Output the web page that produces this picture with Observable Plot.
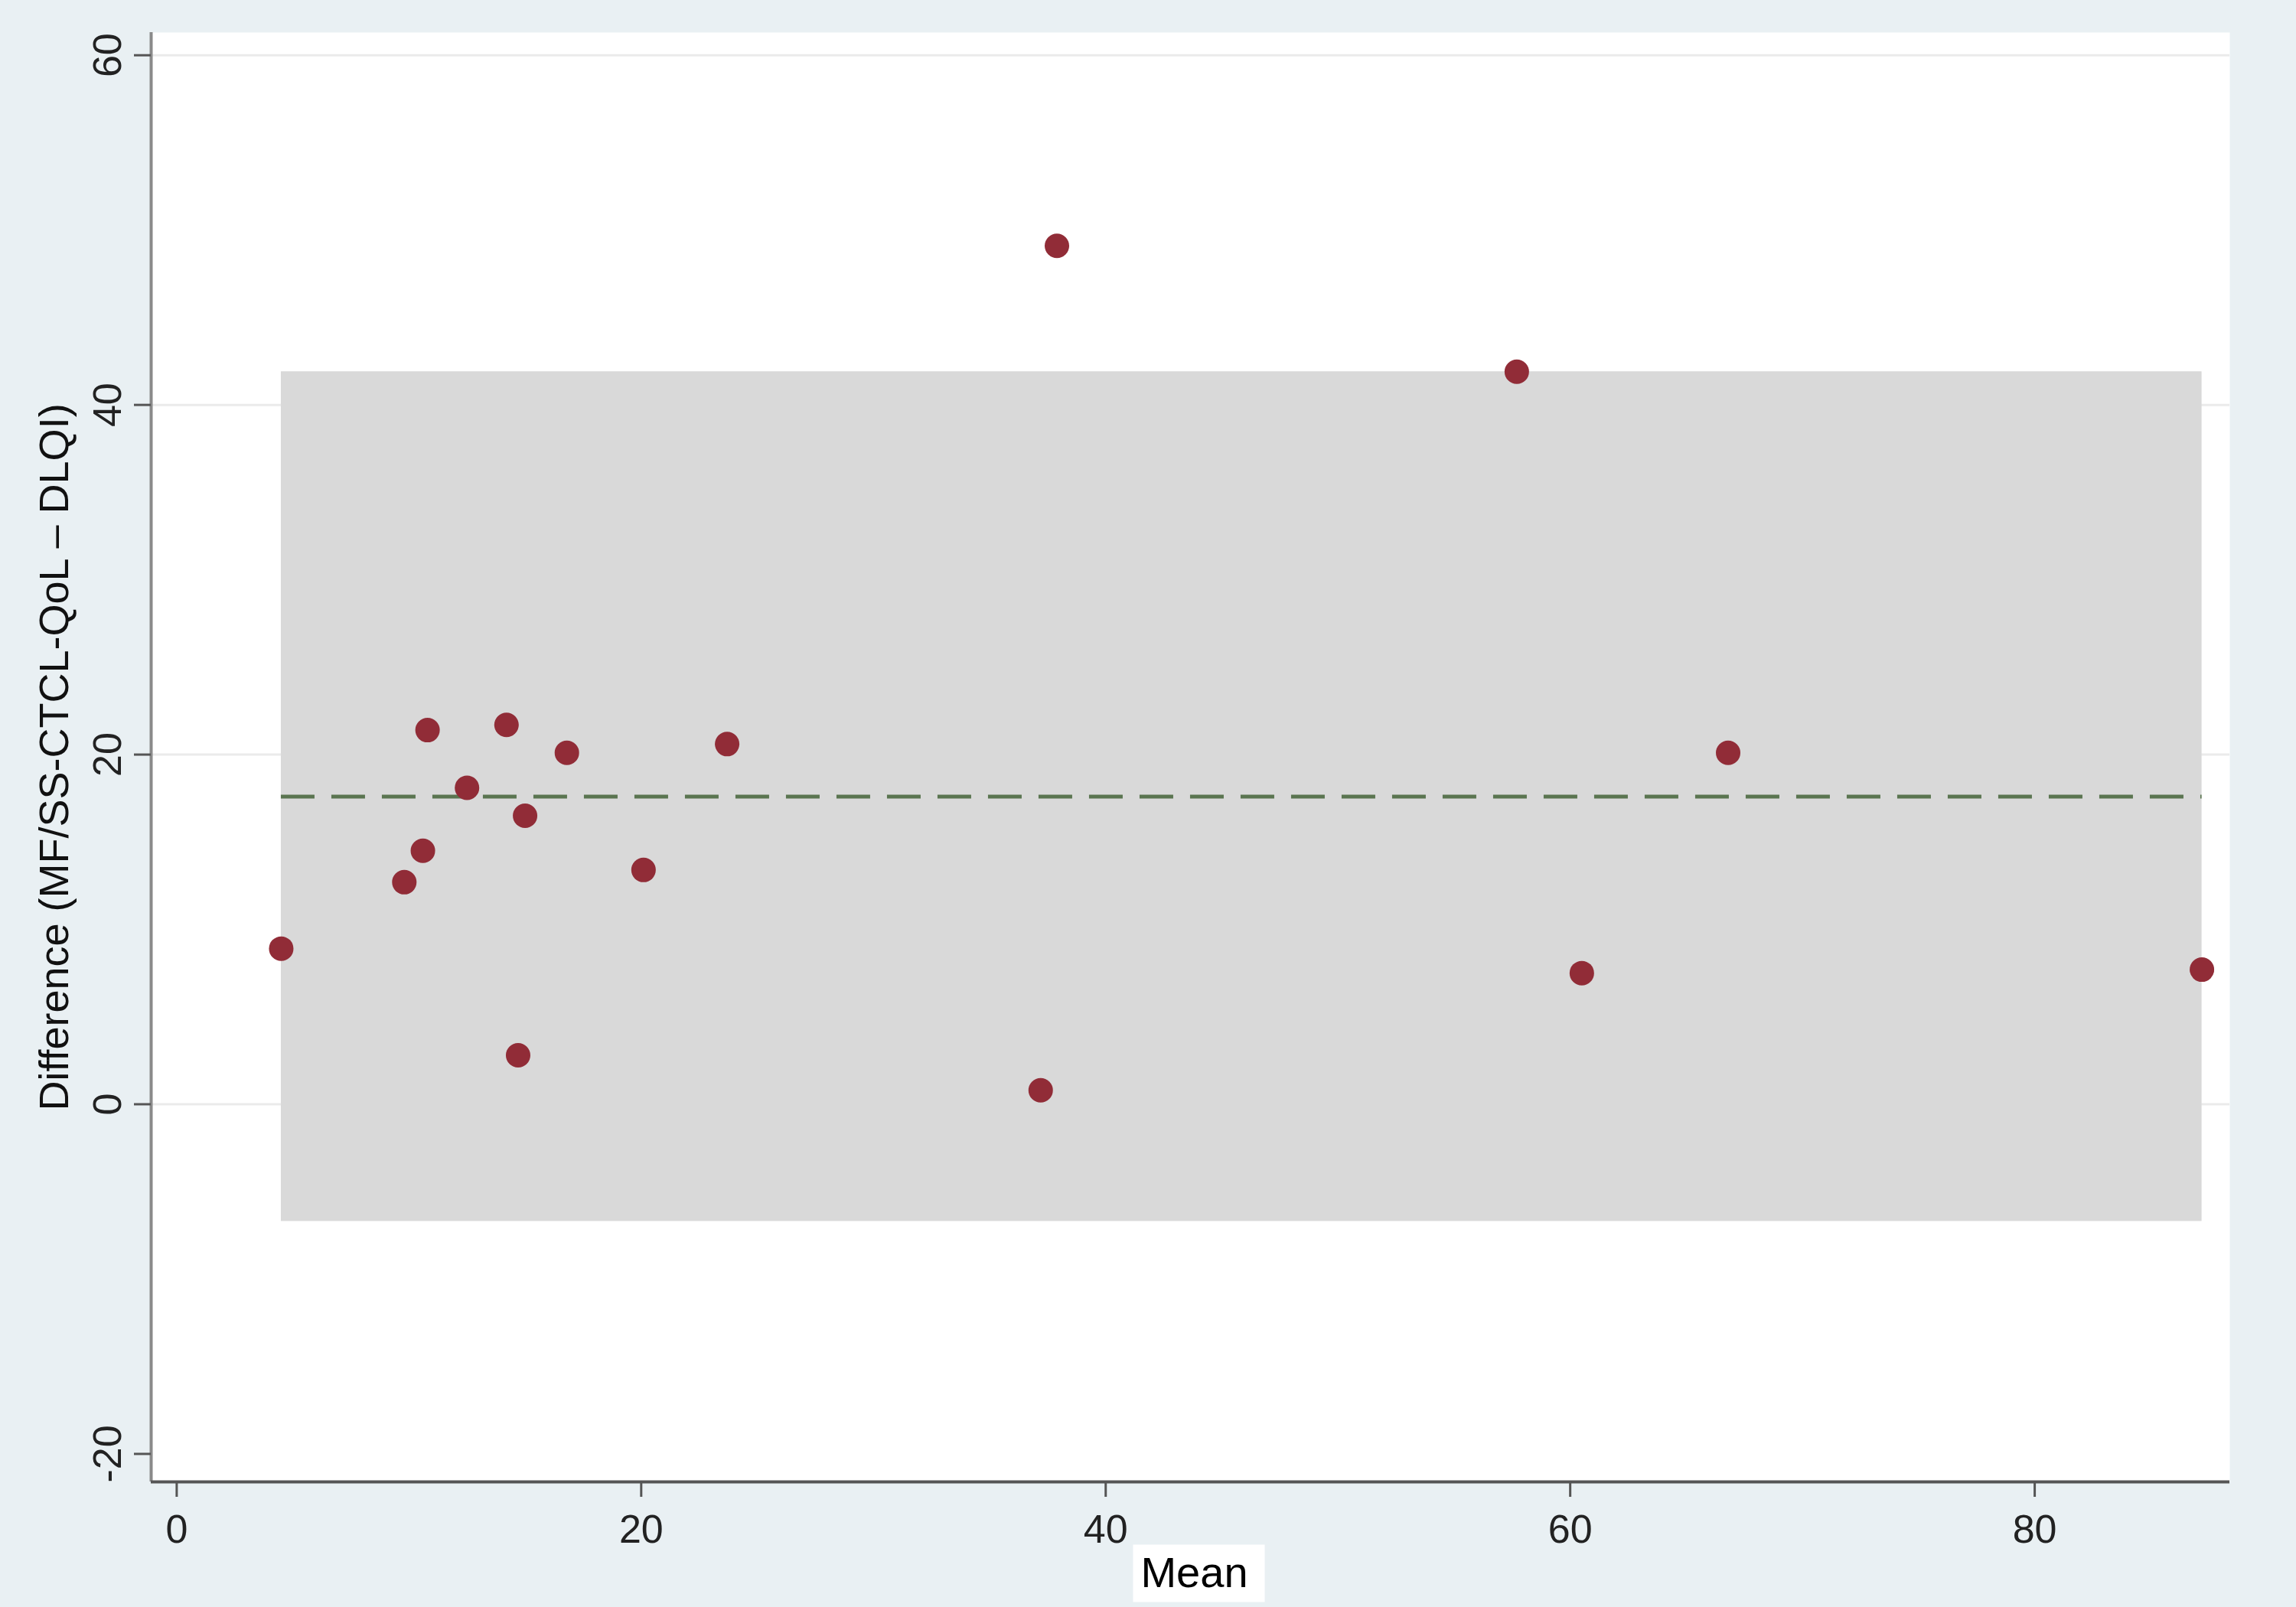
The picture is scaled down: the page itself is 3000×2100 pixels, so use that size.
<!DOCTYPE html>
<html><head><meta charset="utf-8">
<script src="https://cdn.jsdelivr.net/npm/d3@7"></script>
<script src="https://cdn.jsdelivr.net/npm/@observablehq/plot@0.6"></script>
<style>
html,body{margin:0;padding:0;background:#e9f0f3;}
#chart{width:3000px;height:2100px;}
</style></head><body><div id="chart"></div>
<script>
// Bland–Altman data
const meanScores  = [4.5, 9.8, 10.6, 10.8, 12.5, 14.2, 14.7, 15.0, 16.8, 20.1, 23.7, 37.2, 37.9, 57.7, 60.5, 66.8, 87.2];
const differences = [8.9, 12.7, 14.5, 21.4, 18.1, 21.7, 2.8, 16.5, 20.1, 13.4, 20.6, 0.8, 49.1, 41.9, 7.5, 20.1, 7.7];
const meanDiff = 17.6;
const upperLoA = 41.9;
const lowerLoA = -6.7;
const xTicks = [0, 20, 40, 60, 80];
const yTicks = [-20, 0, 20, 40, 60];
const gridTicks = [0, 20, 40, 60];
const xLabel = "Mean";
const yLabel = "Difference (MF/SS-CTCL-QoL – DLQI)";

const xDomain = [-1.1, 88.4];
const yDomain = [-21.6, 61.3];

const data = meanScores.map((m, i) => ({mean: m, diff: differences[i]}));
const xMin = d3.min(meanScores), xMax = d3.max(meanScores);
const band = [{x1: xMin, x2: xMax, y1: lowerLoA, y2: upperLoA}];

const font = "'Liberation Sans', Arial, Helvetica, sans-serif";

const chart = Plot.plot({
  width: 3000,
  height: 2100,
  marginLeft: 197,
  marginRight: 87,
  marginTop: 42,
  marginBottom: 164,
  style: {background: "#e9f0f3", fontFamily: font, color: "#222"},
  x: {domain: xDomain},
  y: {domain: yDomain},
  marks: [
    Plot.frame({fill: "white", stroke: null}),
    Plot.ruleY(gridTicks, {stroke: "#ebebeb", strokeWidth: 3}),
    Plot.rect(band, {x1: "x1", x2: "x2", y1: "y1", y2: "y2", fill: "#d9d9d9"}),
    Plot.ruleY([meanDiff], {x1: xMin, x2: xMax, stroke: "#5a7550", strokeWidth: 5, strokeDasharray: "44,22"}),
    Plot.dot(data, {x: "mean", y: "diff", r: 16, fill: "#912c37", stroke: null}),
    Plot.ruleX([xDomain[0]], {stroke: "#8a8a8a", strokeWidth: 4}),
    Plot.ruleY([yDomain[0]], {stroke: "#555", strokeWidth: 4}),
    Plot.axisX({ticks: xTicks, tickFormat: d => String(d), tickSize: 20, tickPadding: 23, fontSize: 52, stroke: "#555", strokeWidth: 3, fill: "#222", label: null}),
    Plot.axisY({ticks: yTicks, tickFormat: d => String(d), tickSize: 22, tickPadding: 18, tickRotate: -90, fontSize: 52, stroke: "#555", strokeWidth: 3, fill: "#222", label: null}),
    Plot.text([yLabel], {frameAnchor: "left", text: d => d, rotate: -90, dx: -109, textAnchor: "middle", lineAnchor: "bottom", fontSize: 54, fill: "#111"}),
    Plot.text([xLabel], {frameAnchor: "bottom", text: d => d, dy: 137, dx: 5, textAnchor: "middle", lineAnchor: "bottom", fontSize: 56, fill: "#000"})
  ]
});

document.getElementById("chart").appendChild(chart);

// white box behind the "Mean" label
const svgNS = "http://www.w3.org/2000/svg";
for (const t of chart.querySelectorAll("text")) {
  if (t.textContent === xLabel) {
    const bb = t.getBBox();
    const g = t.parentNode;
    const rect = document.createElementNS(svgNS, "rect");
    rect.setAttribute("x", bb.x - 10);
    rect.setAttribute("y", bb.y - 4);
    rect.setAttribute("width", bb.width + 32);
    rect.setAttribute("height", bb.height + 12);
    rect.setAttribute("fill", "white");
    const tr = t.getAttribute("transform");
    if (tr) rect.setAttribute("transform", tr);
    g.insertBefore(rect, t);
  }
}
</script>
</body></html>
